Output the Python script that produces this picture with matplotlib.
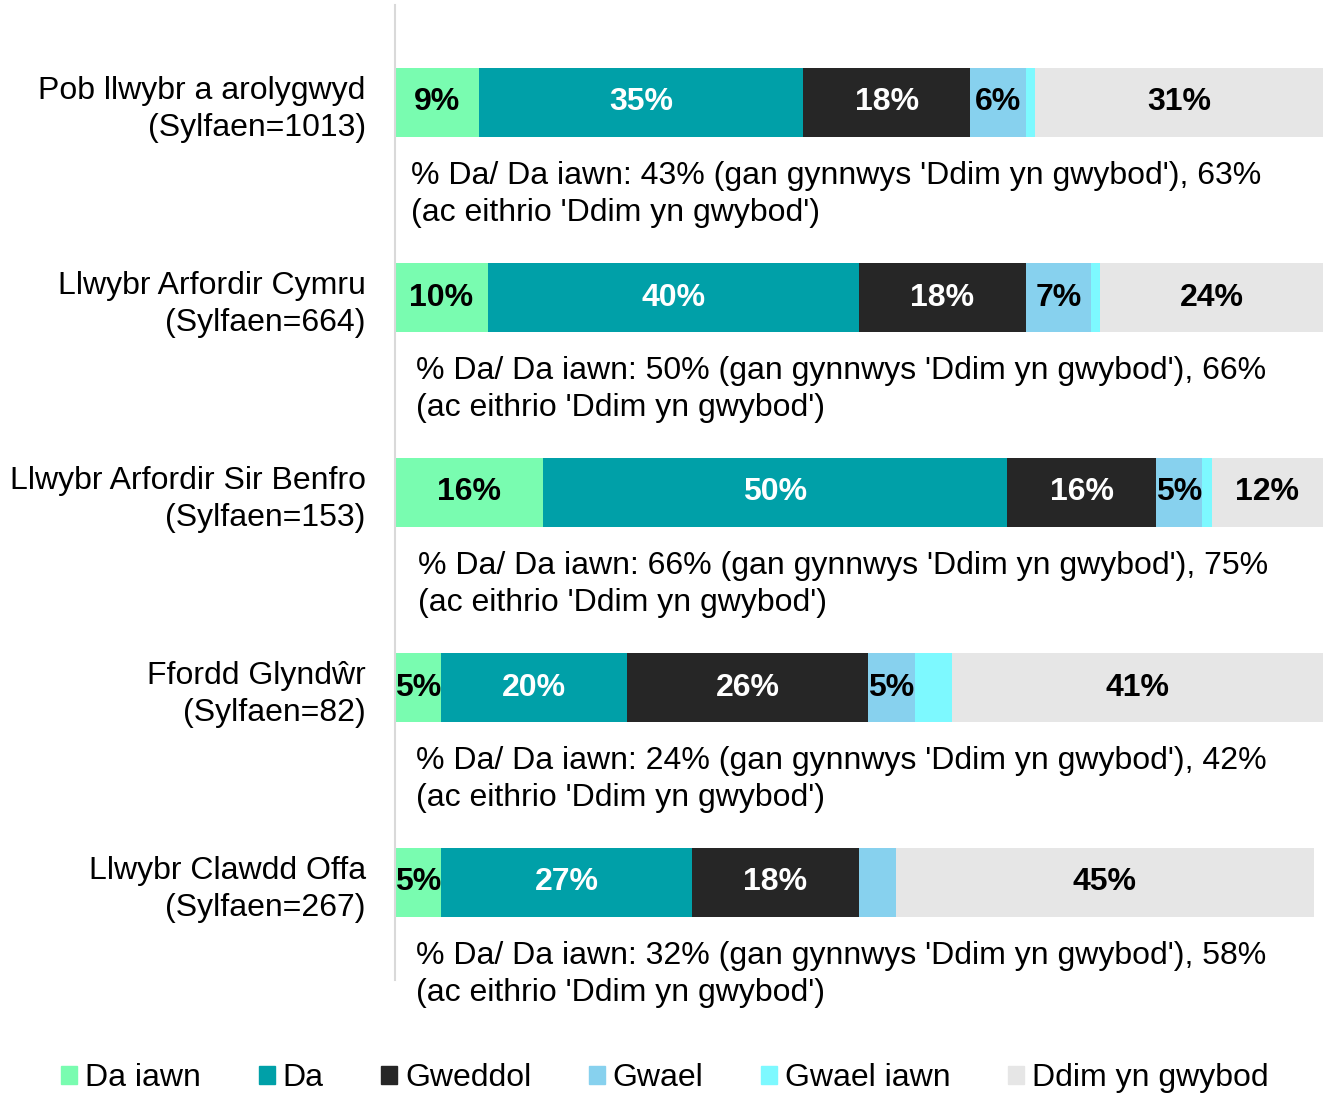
import matplotlib.pyplot as plt
from matplotlib.patches import Patch

plt.rcParams['font.family'] = ['Liberation Sans', 'DejaVu Sans']

categories = ['Pob llwybr a arolygwyd\n(Sylfaen=1013)',
              'Llwybr Arfordir Cymru\n(Sylfaen=664)',
              'Llwybr Arfordir Sir Benfro\n(Sylfaen=153)',
              'Ffordd Glyndŵr\n(Sylfaen=82)',
              'Llwybr Clawdd Offa\n(Sylfaen=267)']
series = ['Da iawn', 'Da', 'Gweddol', 'Gwael', 'Gwael iawn', 'Ddim yn gwybod']
da_iawn = [9, 10, 16, 5, 5]
da = [35, 40, 50, 20, 27]
gweddol = [18, 18, 16, 26, 18]
gwael = [6, 7, 5, 5, 4]
gwael_iawn = [1, 1, 1, 4, 0]
ddim = [31, 24, 12, 40, 45]
# labels shown on the bars (blank = no label)
bar_labels = [
    ['9%', '35%', '18%', '6%', '', '31%'],
    ['10%', '40%', '18%', '7%', '', '24%'],
    ['16%', '50%', '16%', '5%', '', '12%'],
    ['5%', '20%', '26%', '5%', '', '41%'],
    ['5%', '27%', '18%', '', '', '45%'],
]
notes = [
    "% Da/ Da iawn: 43% (gan gynnwys 'Ddim yn gwybod'), 63%\n(ac eithrio 'Ddim yn gwybod')",
    "% Da/ Da iawn: 50% (gan gynnwys 'Ddim yn gwybod'), 66%\n(ac eithrio 'Ddim yn gwybod')",
    "% Da/ Da iawn: 66% (gan gynnwys 'Ddim yn gwybod'), 75%\n(ac eithrio 'Ddim yn gwybod')",
    "% Da/ Da iawn: 24% (gan gynnwys 'Ddim yn gwybod'), 42%\n(ac eithrio 'Ddim yn gwybod')",
    "% Da/ Da iawn: 32% (gan gynnwys 'Ddim yn gwybod'), 58%\n(ac eithrio 'Ddim yn gwybod')",
]
note_x = [1.7, 2.3, 2.5, 2.3, 2.3]

colors = ['#79FCB0', '#00A0A8', '#262626', '#87D1EE', '#7DF9FF', '#E6E6E6']
text_colors = ['black', 'white', 'white', 'black', 'black', 'black']

fig = plt.figure(figsize=(13.3, 10.95), dpi=100)
ax = fig.add_axes([395 / 1330, 1 - 980 / 1095, 928 / 1330, 975 / 1095])

data = [da_iawn, da, gweddol, gwael, gwael_iawn, ddim]
y = list(range(len(categories)))
left = [0] * len(categories)
for s, vals in enumerate(data):
    bars = ax.barh(y, vals, left=left, height=0.35, color=colors[s], label=series[s])
    for i, b in enumerate(bars):
        lab = bar_labels[i][s]
        if lab:
            ax.text(left[i] + vals[i] / 2, i, lab, ha='center', va='center',
                    fontsize=23, fontweight='bold', color=text_colors[s])
    left = [l + v for l, v in zip(left, vals)]

for i, n in enumerate(notes):
    ax.text(note_x[i], i + 0.47, n, ha='left', va='center', fontsize=23,
            linespacing=1.3, color='black')

ax.set_xlim(0, 100)
ax.set_ylim(4.5, -0.5)
ax.set_yticks(y)
ax.set_yticklabels(categories, fontsize=23, linespacing=1.3)
ax.tick_params(axis='y', length=0, pad=21)
ax.set_xticks([])
for side in ['top', 'right', 'bottom']:
    ax.spines[side].set_visible(False)
ax.spines['left'].set_color('#D9D9D9')
ax.spines['left'].set_linewidth(1.5)

handles = [Patch(color=c, label=l) for c, l in zip(colors, series)]
fig.legend(handles=handles, loc='center', bbox_to_anchor=(0.5, 1 - 1078 / 1095),
           ncol=6, frameon=False, fontsize=23, handlelength=0.5, handleheight=0.5,
           handletextpad=0.25, columnspacing=1.8)

fig.savefig('out.png', dpi=100)
